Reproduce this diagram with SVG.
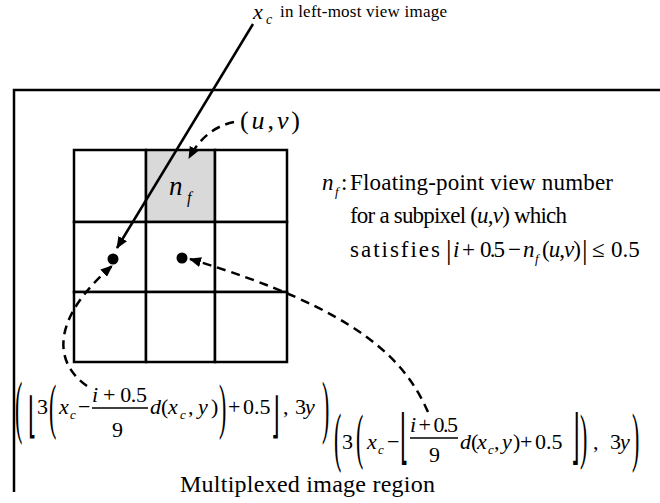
<svg xmlns="http://www.w3.org/2000/svg" width="660" height="503" viewBox="0 0 660 503" font-family="Liberation Serif, Times New Roman, serif">
<style>
.i{font-style:italic}
.m{font-size:22px}
.r{font-size:23px}
.sub{font-size:13px;font-style:italic}
.ln{stroke:#000;stroke-width:2.5;fill:none}
.cell{fill:#fff;stroke:#000;stroke-width:2.5}
.dash{stroke:#000;stroke-width:2.5;fill:none;stroke-dasharray:9 6}
</style>
<defs>
<marker id="ah" markerUnits="userSpaceOnUse" markerWidth="12" markerHeight="10" viewBox="0 0 12 10" refX="11" refY="5" orient="auto">
<path d="M0,0 L12,5 L0,10 z" fill="#000"/>
</marker>
</defs>
<rect width="660" height="503" fill="#fff"/>

<g id="frame">
<path class="ln" d="M14 492 L14 90 L660 90"/>
</g>

<g id="subpixel-grid">
<rect class="cell" x="74" y="150" width="72" height="72"/>
<rect class="cell" x="146" y="150" width="69" height="72" style="fill:#d9d9d9"/>
<rect class="cell" x="215" y="150" width="72" height="72"/>
<rect class="cell" x="74" y="222" width="72" height="70"/>
<rect class="cell" x="146" y="222" width="69" height="70"/>
<rect class="cell" x="215" y="222" width="72" height="70"/>
<rect class="cell" x="74" y="292" width="72" height="70"/>
<rect class="cell" x="146" y="292" width="69" height="70"/>
<rect class="cell" x="215" y="292" width="72" height="70"/>
<text class="i" x="169" y="195" font-size="27">n</text>
<text class="i" x="187" y="203" font-size="16">f</text>
</g>

<g id="dot-left"><circle cx="113" cy="259" r="5.5" fill="#000"/></g>
<g id="dot-right"><circle cx="182" cy="258" r="5.5" fill="#000"/></g>

<g id="connectors">
<path class="ln" d="M253 24 L117 248" marker-end="url(#ah)"/>
<path class="dash" d="M234 122 Q205 128 189 158" marker-end="url(#ah)"/>
<path class="dash" d="M87 386 C50 360 55 315 112 266" marker-end="url(#ah)"/>
<path class="dash" d="M428 412 C405 360 360 310 190 259" marker-end="url(#ah)"/>
</g>

<g id="label-xc">
<text class="i" x="253" y="19" font-size="22">x</text>
<text class="i" x="266" y="24" font-size="14">c</text>
<text x="280" y="17" font-size="17" textLength="167">in left-most view image</text>
</g>

<g id="label-uv">
<text x="240" y="129" font-size="26" textLength="60">(<tspan class="i">u</tspan>,<tspan class="i">v</tspan>)</text>
</g>

<g id="label-nf">
<text class="i r" x="322" y="190">n</text>
<text class="sub" x="335" y="196">f</text>
<text class="r" x="341" y="190">:</text>
<text class="r" x="350" y="190" textLength="263">Floating-point view number</text>
<text class="r" x="350" y="223" textLength="217">for a subpixel (<tspan class="i">u</tspan>,<tspan class="i">v</tspan>) which</text>
<text class="r" x="350" y="257" textLength="90">satisfies</text>
<text x="446" y="259" font-size="28">|</text>
<text class="r i" x="453" y="257">i</text>
<text class="r" x="462" y="257">+</text>
<text class="r" x="480" y="257" textLength="25">0.5</text>
<text class="r" x="508" y="257">−</text>
<text class="r i" x="523" y="257">n</text>
<text class="sub" x="535" y="263">f</text>
<text class="r" x="542" y="257" textLength="39">(<tspan class="i">u</tspan>,<tspan class="i">v</tspan>)</text>
<text x="582" y="259" font-size="28">|</text>
<text class="r" x="592" y="257">≤</text>
<text class="r" x="611" y="257">0.5</text>
</g>

<g id="formula-left">
<text class="m" transform="translate(15 430.2) scale(1 3.15)">(</text>
<text class="m" font-family="DejaVu Sans" transform="translate(28 431.7) scale(1 2.2)">⌊</text>
<text class="m" x="37" y="414">3</text>
<text class="m" transform="translate(49 427.1) scale(1 2.75)">(</text>
<text class="m i" x="59" y="414">x</text>
<text class="sub" x="70" y="419">c</text>
<text class="m" x="78" y="414">−</text>
<text class="m" x="92" y="402" textLength="55"><tspan class="i">i</tspan> + 0.5</text>
<line x1="92" y1="408" x2="148" y2="408" stroke="#000" stroke-width="1.3"/>
<text class="m" x="112" y="437">9</text>
<text class="m i" x="150" y="414">d</text>
<text class="m" x="161" y="414">(</text>
<text class="m i" x="168" y="414">x</text>
<text class="sub" x="180" y="419">c</text>
<text class="m" x="188" y="414">,</text>
<text class="m i" x="198" y="414">y</text>
<text class="m" x="211" y="414">)</text>
<text class="m" transform="translate(219 427.1) scale(1 2.75)">)</text>
<text class="m" x="228" y="414">+</text>
<text class="m" x="243" y="414">0.5</text>
<text class="m" font-family="DejaVu Sans" transform="translate(271 431.7) scale(1 2.2)">⌋</text>
<text class="m" x="283" y="414">,</text>
<text class="m" x="295" y="414">3</text>
<text class="m i" x="305" y="414">y</text>
<text class="m" transform="translate(322 430.2) scale(1 3.15)">)</text>
</g>

<g id="formula-right">
<text class="m" transform="translate(334 458.9) scale(1 3.0)">(</text>
<text class="m" x="342" y="449">3</text>
<text class="m" transform="translate(356 457.1) scale(1 2.75)">(</text>
<text class="m i" x="367" y="449">x</text>
<text class="sub" x="378" y="454">c</text>
<text class="m" x="387" y="449">−</text>
<text class="m" font-family="DejaVu Sans" transform="translate(400 457.1) scale(1 2.7)">⌊</text>
<text class="m" x="410" y="432" textLength="48"><tspan class="i">i</tspan> + 0.5</text>
<line x1="410" y1="438" x2="458" y2="438" stroke="#000" stroke-width="1.3"/>
<text class="m" x="429" y="462">9</text>
<text class="m i" x="460" y="449">d</text>
<text class="m" x="471" y="449">(</text>
<text class="m i" x="477" y="449">x</text>
<text class="sub" x="488" y="454">c</text>
<text class="m" x="494" y="449">,</text>
<text class="m i" x="502" y="449">y</text>
<text class="m" x="513" y="449">)</text>
<text class="m" x="520" y="449">+</text>
<text class="m" x="535" y="449">0.5</text>
<text class="m" font-family="DejaVu Sans" transform="translate(571 457.1) scale(1 2.7)">⌋</text>
<text class="m" transform="translate(580 457.1) scale(1 2.75)">)</text>
<text class="m" x="593" y="449">,</text>
<text class="m" x="610" y="449">3</text>
<text class="m i" x="620" y="449">y</text>
<text class="m" transform="translate(632 458.9) scale(1 3.0)">)</text>
</g>

<g id="label-region">
<text x="180" y="492" font-size="24" textLength="255">Multiplexed image region</text>
</g>
</svg>
